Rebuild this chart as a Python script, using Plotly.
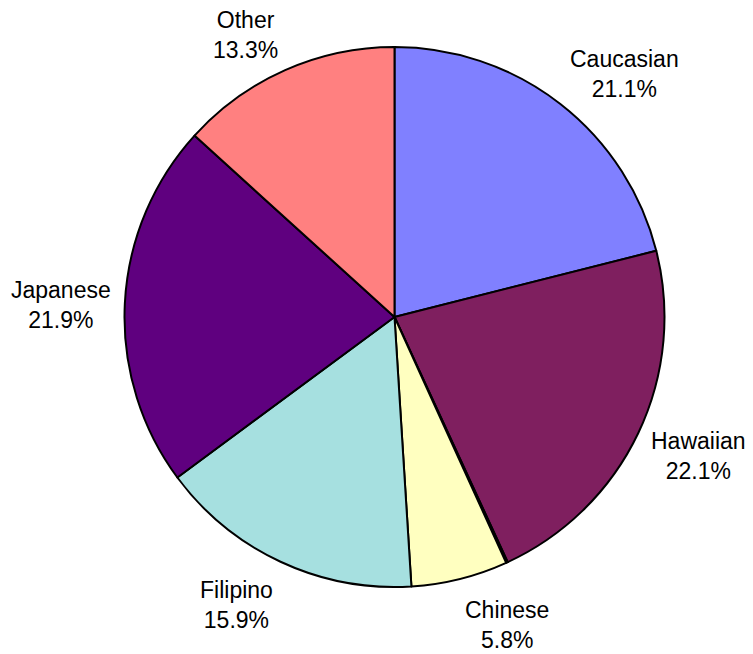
import numpy as np
import plotly.graph_objects as go

# データ
labels = ["Caucasian", "Hawaiian", "", "Chinese", "Filipino", "Japanese", "Other"]
values = [21.1, 22.1, 0.1, 5.8, 15.9, 21.9, 13.3]
colors = ["#8080FF", "#7F1F5F", "#808080", "#FFFFC0", "#A6E0E0", "#5F007F", "#FF8080"]

W, H = 753, 654
cx, cy, r = 394.5, 317, 270
gap_x, gap_y, text_h = 12, 20, 46
font = dict(family="Liberation Sans, Arial", size=23, color="black")

fig = go.Figure(go.Pie(
    labels=labels,
    values=values,
    sort=False,
    direction="clockwise",
    rotation=0,
    marker=dict(colors=colors, line=dict(color="black", width=2)),
    textinfo="none",
    showlegend=False,
    hoverinfo="label+percent",
    domain=dict(x=[(cx - r) / W, (cx + r) / W], y=[(H - cy - r) / H, (H - cy + r) / H]),
))

# ラベルは各スライスの中央角から外側に配置
vals = np.array(values)
total = vals.sum()
mids = (np.cumsum(vals) - vals / 2) / total * 2 * np.pi
for lab, v, th in zip(labels, values, mids):
    if not lab:
        continue
    s, c = np.sin(th), np.cos(th)
    px_x = cx + (r + gap_x) * s
    px_y = cy - (r + gap_y + text_h / 2) * c
    fig.add_annotation(
        x=px_x / W, y=1 - px_y / H, xref="paper", yref="paper",
        text=f"{lab}<br>{v:.1f}%", showarrow=False,
        xanchor="left" if s > 0 else "right", yanchor="middle",
        yshift=-4, align="center", font=font,
    )

fig.update_layout(
    width=W, height=H,
    margin=dict(l=0, r=0, t=0, b=0),
    paper_bgcolor="white",
    plot_bgcolor="white",
)

# bodyの余白を消す
fig.write_html("out.html", config={"displayModeBar": False},
               post_script="document.body.style.margin='0';")
